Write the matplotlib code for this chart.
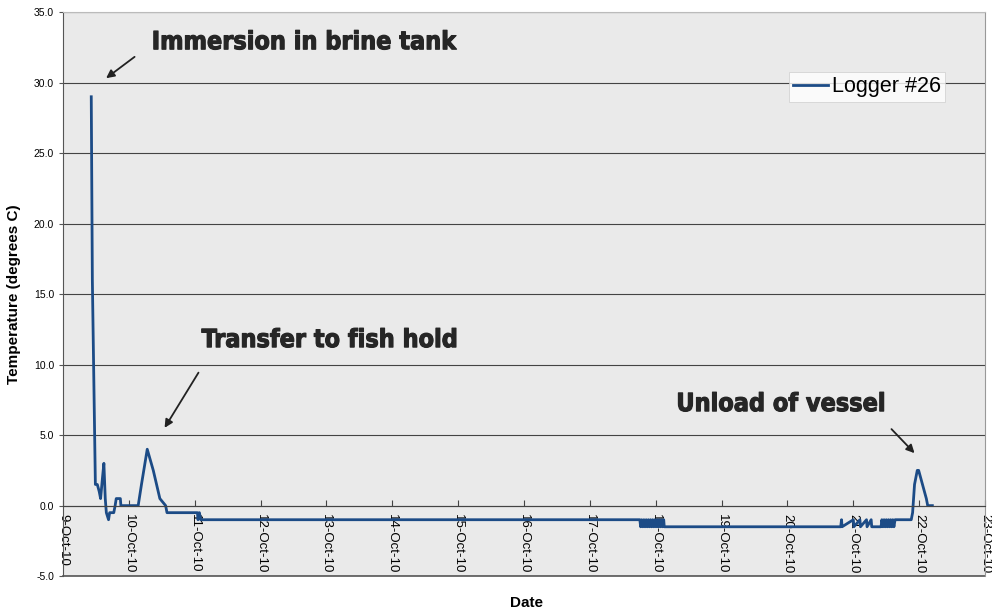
import pandas as pd
import matplotlib
matplotlib.use('Agg')
import matplotlib.pyplot as plt
import matplotlib.dates as mdates
import matplotlib.patheffects as pe

plt.rc('font', family=['Liberation Sans', 'DejaVu Sans'])

# hours after 9-Oct-10 00:00 and logger temperature (degrees C)
hours = [10.3, 10.7, 11.8, 12.5, 13.2, 13.7, 14.4, 14.9, 15.4, 15.8, 16.6, 17.0,
         18.5, 19.0, 19.4, 20.9, 21.1, 27.4, 28.6, 30.7, 32.9, 35.3, 37.4, 37.9,
         49.0, 49.2, 49.7, 50.2, 210.2,
         210.5, 210.9, 211.3, 211.7, 212.1, 212.5, 212.9, 213.3, 213.7, 214.1,
         214.5, 214.9, 215.3, 215.7, 216.1, 216.5, 216.9, 217.3, 217.7, 218.1,
         218.5, 218.9, 219.1, 283.4, 283.7, 283.9, 288.0, 288.2, 290.4, 290.6,
         292.8, 293.0, 294.5, 294.7, 298.1,
         298.4, 298.8, 299.2, 299.6, 300.0, 300.4, 300.8, 301.2, 301.6, 302.0,
         302.4, 302.8, 303.2, 303.6, 309.1, 309.6, 310.3, 311.3, 311.8, 313.2,
         314.6, 315.1, 316.8]
temps = [29.0, 16.0, 1.5, 1.5, 1.0, 0.5, 2.0, 3.0, 0.5, -0.5, -1.0, -0.5,
         -0.5, 0.0, 0.5, 0.5, 0.0, 0.0, 1.5, 4.0, 2.5, 0.5, 0.0, -0.5,
         -0.5, -1.0, -0.5, -1.0, -1.0,
         -1.5, -1.0, -1.5, -1.0, -1.5, -1.0, -1.5, -1.0, -1.5, -1.0,
         -1.5, -1.0, -1.5, -1.0, -1.5, -1.0, -1.5, -1.0, -1.5, -1.0,
         -1.5, -1.0, -1.5, -1.5, -1.0, -1.5, -1.0, -1.5, -1.0, -1.5,
         -1.0, -1.5, -1.0, -1.5, -1.5,
         -1.0, -1.5, -1.0, -1.5, -1.0, -1.5, -1.0, -1.5, -1.0, -1.5,
         -1.0, -1.5, -1.0, -1.0, -1.0, -0.5, 1.5, 2.5, 2.5, 1.5,
         0.5, 0.0, 0.0]

start = pd.Timestamp('2010-10-09')
times = start + pd.to_timedelta(hours, unit='h')

fig = plt.figure(figsize=(9.92, 6.09), dpi=100)
ax = fig.add_axes([0.0635, 0.054, 0.9295, 0.926])
ax.set_facecolor('#eaeaea')

ax.plot(times, temps, color='#1c4b86', linewidth=2.0, label='Logger #26')

ax.set_xlim(pd.Timestamp('2010-10-09'), pd.Timestamp('2010-10-23'))
ax.set_ylim(-5, 35)
ax.set_yticks(range(-5, 36, 5))
ax.yaxis.set_major_formatter(matplotlib.ticker.FormatStrFormatter('%.1f'))
ax.xaxis.set_major_locator(mdates.DayLocator())
ax.xaxis.set_major_formatter(mdates.DateFormatter('%-d-%b-%y'))

ax.grid(axis='y', color='#444444', linewidth=0.8)
ax.set_axisbelow(True)

# category axis crosses at 0 like the original
ax.spines['bottom'].set_position(('data', 0))
ax.spines['bottom'].set_color('#444444')
ax.spines['bottom'].set_linewidth(0.8)
ax.axhline(-5, color='#555555', linewidth=1.2, clip_on=False)
ax.spines['left'].set_color('#555555')
ax.spines['top'].set_color('#bbbbbb')
ax.spines['right'].set_color('#999999')

ax.tick_params(axis='x', direction='in', length=4, labelsize=9.5, pad=6,
               labelrotation=-90, color='#444444')
ax.tick_params(axis='y', direction='out', length=3, labelsize=7.5, color='#555555')
for lab in ax.get_xticklabels():
    lab.set_verticalalignment('top')

ax.set_ylabel('Temperature (degrees C)', fontsize=11, fontweight='bold', labelpad=9)
ax.set_xlabel('Date', fontsize=11, fontweight='bold')
ax.xaxis.set_label_coords(0.503, -0.035)

ann = dict(fontsize=18, fontweight='heavy', fontstretch='condensed',
           family='DejaVu Sans', color='#262626', ha='center', va='center',
           path_effects=[pe.withStroke(linewidth=0.8, foreground='#262626')])
arrow = dict(arrowstyle='-|>', color='#222222', lw=1.3, mutation_scale=12)

def d(h):
    return start + pd.Timedelta(hours=h)

ax.annotate('', xy=(d(14.9), 30.2), xytext=(d(26.9), 31.95), arrowprops=arrow)
ax.text(d(87.8), 32.87, 'Immersion in brine tank', **ann)
ax.annotate('', xy=(d(36.5), 5.35), xytext=(d(49.9), 9.6), arrowprops=arrow)
ax.text(d(97.2), 11.74, 'Transfer to fish hold', **ann)
ax.annotate('', xy=(d(311.0), 3.58), xytext=(d(301.2), 5.57), arrowprops=arrow)
ax.text(d(261.6), 7.2, 'Unload of vessel', **ann)

leg = ax.legend(loc='upper right', bbox_to_anchor=(0.957, 0.894), fontsize=15.5,
                frameon=True, fancybox=False, handlelength=1.6, handletextpad=0.2,
                borderpad=0.2, borderaxespad=0)
leg.get_frame().set_edgecolor('#cccccc')
leg.get_frame().set_linewidth(0.6)

plt.savefig('out.png', dpi=100)
